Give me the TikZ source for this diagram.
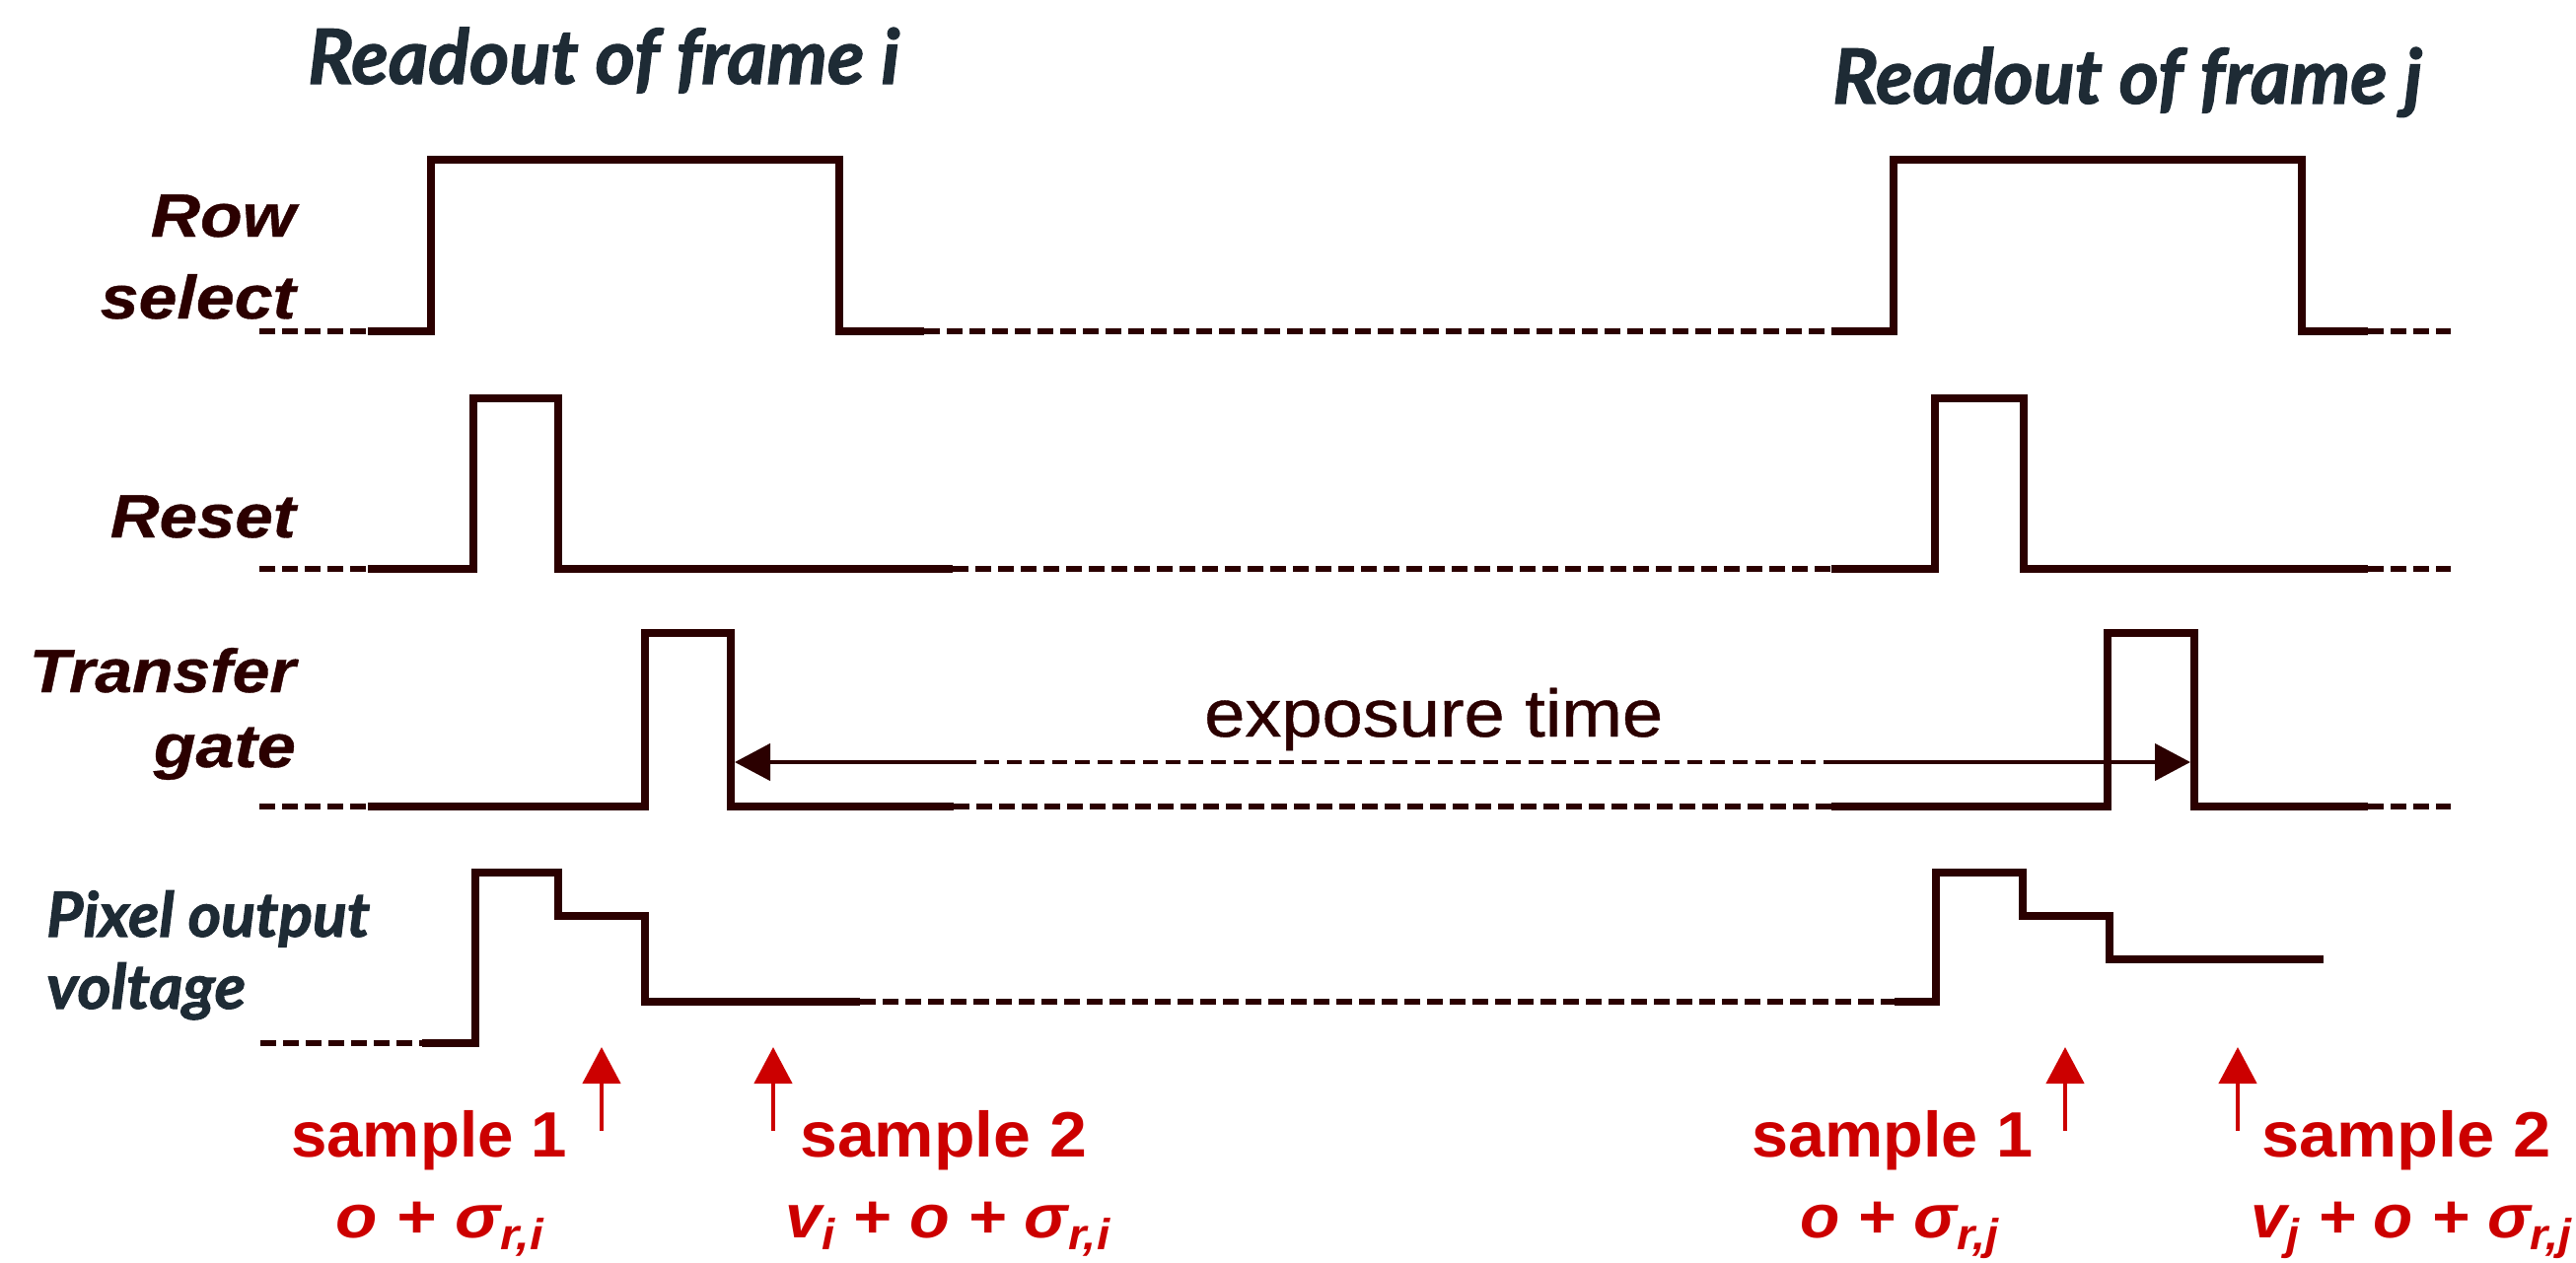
\documentclass[tikz,border=0pt]{standalone}
\usepackage{fontspec}
\usepackage{graphicx}
\usetikzlibrary{arrows.meta}
\setmainfont{Liberation Sans}
\newfontfamily\titlefont[FakeBold=1.6]{Lato}
\newfontfamily\labfont[FakeBold=0.6]{Liberation Sans}
\definecolor{sig}{RGB}{43,0,0}
\definecolor{slate}{RGB}{30,43,53}
\definecolor{smp}{RGB}{204,0,0}
\newcommand{\fitw}[2]{\resizebox{#1pt}{\height}{#2}}
\newcommand{\sbs}[1]{\raisebox{-12pt}{\fontsize{44}{44}\selectfont #1}}
\begin{document}
\begin{tikzpicture}[x=1pt,y=-1pt,
  solidsig/.style={draw=sig, line width=7.5pt, line join=miter, line cap=butt},
  dashsig/.style={draw=sig, line width=6.5pt, dash pattern=on 16pt off 7pt},
  expo/.style={draw=sig, line width=4.5pt},
  expodash/.style={draw=sig, line width=4.5pt, dash pattern=on 15pt off 8pt},
  smparrow/.style={draw=smp, line width=4.5pt, -{Triangle[length=37pt,width=38pt]}},
  ttl/.style={inner sep=0pt, text=slate, font=\titlefont\fontsize{77}{80}\selectfont\bfseries\itshape},
  pvl/.style={inner sep=0pt, text=slate, font=\titlefont\fontsize{63}{66}\selectfont\bfseries\itshape},
  sigl/.style={inner sep=0pt, text=sig, anchor=base east, font=\labfont\fontsize{62}{66}\selectfont\bfseries\itshape},
  smpl/.style={inner sep=0pt, text=smp, anchor=base west, font=\fontsize{65}{68}\selectfont\bfseries},
  frml/.style={inner sep=0pt, text=smp, anchor=base west, font=\fontsize{62}{66}\selectfont\bfseries\itshape},
  expl/.style={inner sep=0pt, text=sig, anchor=base west, font=\labfont\fontsize{68}{70}\selectfont}
]
\useasboundingbox (0,0) rectangle (2612,1280);

% titles
\node[ttl, anchor=base west] (ti) at (312,85) {\fitw{600}{Readout of frame i}};
\node[ttl, anchor=base west] (tj) at (1858,105) {\fitw{598}{Readout of frame j}};

% signal labels
\node[sigl] (lrow) at (300,240) {\fitw{147}{Row}};
\node[sigl] (lsel) at (300,323) {\fitw{198}{select}};
\node[sigl] (lres) at (300,545) {\fitw{188}{Reset}};
\node[sigl] (ltra) at (300,702) {\fitw{270}{Transfer}};
\node[sigl] (lgat) at (300,778) {\fitw{144}{gate}};
\node[pvl, anchor=base west] (lpix) at (47,950) {\fitw{328}{Pixel output}};
\node[pvl, anchor=base west] (lvol) at (47,1023) {\fitw{202}{voltage}};

% Row select
\draw[dashsig] (263,336) -- (373,336);
\draw[solidsig] (373,336) -- (437,336) -- (437,162) -- (851,162) -- (851,336) -- (937,336);
\draw[dashsig] (937,336) -- (1857,336);
\draw[solidsig] (1857,336) -- (1920,336) -- (1920,162) -- (2334,162) -- (2334,336) -- (2401,336);
\draw[dashsig] (2401,336) -- (2485,336);

% Reset
\draw[dashsig] (263,577) -- (373,577);
\draw[solidsig] (373,577) -- (480,577) -- (480,404) -- (566,404) -- (566,577) -- (966,577);
\draw[dashsig] (966,577) -- (1857,577);
\draw[solidsig] (1857,577) -- (1962,577) -- (1962,404) -- (2052,404) -- (2052,577) -- (2401,577);
\draw[dashsig] (2401,577) -- (2485,577);

% Transfer gate
\draw[dashsig] (263,818) -- (373,818);
\draw[solidsig] (373,818) -- (654,818) -- (654,642) -- (741,642) -- (741,818) -- (967,818);
\draw[dashsig] (967,818) -- (1857,818);
\draw[solidsig] (1857,818) -- (2137,818) -- (2137,642) -- (2225,642) -- (2225,818) -- (2401,818);
\draw[dashsig] (2401,818) -- (2485,818);

% exposure time arrow
\coordinate (eL) at (745,773);
\coordinate (eA) at (975,773);
\coordinate (eB) at (1854,773);
\coordinate (eR) at (2221,773);
\draw[expo, {Triangle[length=36pt,width=37pt]}-] (eL) -- (eA);
\draw[expodash] (eA) -- (eB);
\draw[expo, -{Triangle[length=36pt,width=37pt]}] (eB) -- (eR);
\node[expl] (lexp) at (1221,747) {\fitw{465}{exposure time}};

% Pixel output voltage
\draw[dashsig] (264,1058) -- (428,1058);
\draw[solidsig] (428,1058) -- (482,1058) -- (482,885) -- (566,885) -- (566,929) -- (654,929) -- (654,1016) -- (872,1016);
\draw[dashsig] (872,1016) -- (1921,1016);
\draw[solidsig] (1921,1016) -- (1963,1016) -- (1963,885) -- (2051,885) -- (2051,929) -- (2139,929) -- (2139,973) -- (2356,973);

% sample arrows
\coordinate (a1i0) at (610,1147); \coordinate (a1i1) at (610,1062);
\coordinate (a2i0) at (784,1147); \coordinate (a2i1) at (784,1062);
\coordinate (a1j0) at (2094,1147); \coordinate (a1j1) at (2094,1062);
\coordinate (a2j0) at (2269,1147); \coordinate (a2j1) at (2269,1062);
\draw[smparrow] (a1i0) -- (a1i1);
\draw[smparrow] (a2i0) -- (a2i1);
\draw[smparrow] (a1j0) -- (a1j1);
\draw[smparrow] (a2j0) -- (a2j1);

% sample labels
\node[smpl] (s1i) at (295,1173) {\fitw{280}{sample 1}};
\node[smpl] (s2i) at (811,1173) {\fitw{291}{sample 2}};
\node[smpl] (s1j) at (1776,1173) {\fitw{285}{sample 1}};
\node[smpl] (s2j) at (2293,1173) {\fitw{294}{sample 2}};
\node[frml] (f1i) at (340,1255) {\fitw{211}{o + σ\sbs{r,i}}};
\node[frml] (f2i) at (796,1255) {\fitw{329}{v\sbs{i} + o + σ\sbs{r,i}}};
\node[frml] (f1j) at (1825,1255) {\fitw{201}{o + σ\sbs{r,j}}};
\node[frml] (f2j) at (2282,1255) {\fitw{325}{v\sbs{j} + o + σ\sbs{r,j}}};
\end{tikzpicture}
\end{document}
